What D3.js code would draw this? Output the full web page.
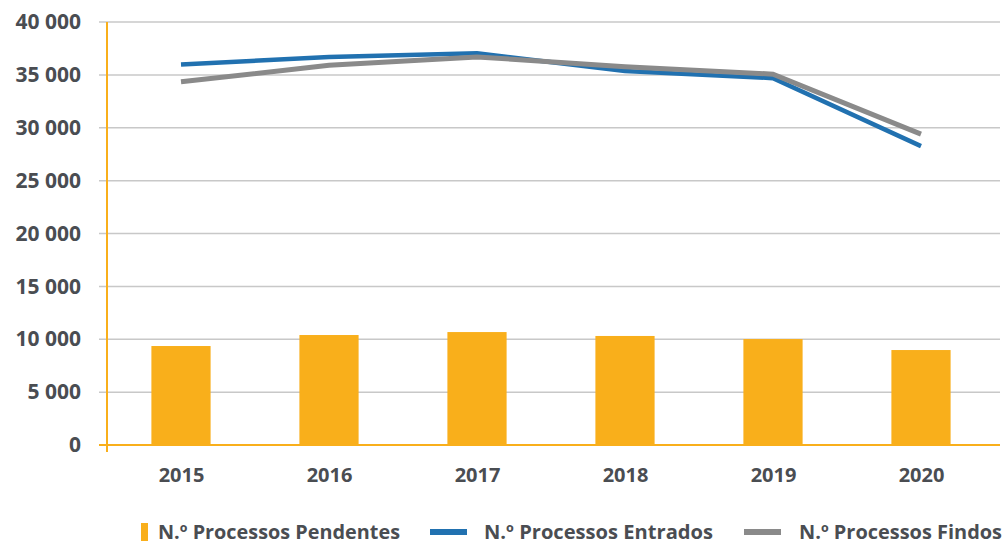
<!DOCTYPE html>
<html><head><meta charset="utf-8">
<script src="https://cdn.jsdelivr.net/npm/d3@7"></script>
<style>
body{margin:0;background:#fff;}
text{font-family:"Open Sans",sans-serif;font-weight:700;fill:#4a4d52;}
</style></head>
<body><svg id="c" width="1005" height="545"></svg>
<script>
const years = ["2015","2016","2017","2018","2019","2020"];
const pendentes = [9360, 10400, 10680, 10310, 10020, 8980];
const entrados = [35980, 36700, 37050, 35370, 34690, 28260];
const findos = [34340, 35900, 36700, 35760, 35070, 29400];
const yTicks = [0,5000,10000,15000,20000,25000,30000,35000,40000];
const seriesNames = ["N.º Processos Pendentes","N.º Processos Entrados","N.º Processos Findos"];

const orange="#F9AF1B", blue="#2171B0", gray="#8A8A8A";
const svg=d3.select("#c");
const x=d3.scaleBand().domain(years).range([107,995]).paddingInner(0.6).paddingOuter(0.3);
const xp=d3.scalePoint().domain(years).range([107,995]).padding(0.5);
const y=d3.scaleLinear().domain([0,40000]).range([445,22]);
const fmt=v=>d3.format(",")(v).replace(/,/g," ");

// gridlines
svg.append("g").selectAll("line").data(yTicks.filter(t=>t>0)).join("line")
 .attr("x1",99).attr("x2",1000).attr("y1",d=>y(d)).attr("y2",d=>y(d))
 .attr("stroke","#c8c8c8").attr("stroke-width",1.5);

// y axis labels
const ya=svg.append("g").attr("transform","translate(81,0)")
 .call(d3.axisLeft(y).tickValues(yTicks).tickFormat(fmt).tickSize(0).tickPadding(0));
ya.select(".domain").remove();
ya.selectAll("text").style("font-size","21px").attr("fill","#4a4d52").attr("font-family","Open Sans").attr("font-weight","700");

// bars
svg.append("g").selectAll("rect").data(pendentes).join("rect")
 .attr("x",(d,i)=>x(years[i])).attr("width",x.bandwidth())
 .attr("y",d=>y(d)).attr("height",d=>y(0)-y(d)).attr("fill",orange);

// axis lines
svg.append("line").attr("x1",107).attr("x2",107).attr("y1",22).attr("y2",452).attr("stroke",orange).attr("stroke-width",2);
svg.append("line").attr("x1",99).attr("x2",1000).attr("y1",y(0)).attr("y2",y(0)).attr("stroke",orange).attr("stroke-width",2);

// x axis labels
const xa=svg.append("g").attr("transform","translate(0,468)")
 .call(d3.axisBottom(xp).tickSize(0).tickPadding(0));
xa.select(".domain").remove();
xa.selectAll("text").style("font-size","20px").attr("fill","#4a4d52").attr("font-family","Open Sans").attr("font-weight","700");

// lines
const line=d3.line().x((d,i)=>xp(years[i])).y(d=>y(d));
svg.append("path").datum(entrados).attr("d",line).attr("fill","none").attr("stroke",blue).attr("stroke-width",4.5);
svg.append("path").datum(findos).attr("d",line).attr("fill","none").attr("stroke",gray).attr("stroke-width",5);

// legend
const lg=svg.append("g");
lg.append("rect").attr("x",141).attr("y",523).attr("width",7).attr("height",18).attr("fill",orange);
lg.append("line").attr("x1",430).attr("x2",467).attr("y1",532).attr("y2",532).attr("stroke",blue).attr("stroke-width",6);
lg.append("line").attr("x1",744).attr("x2",781).attr("y1",532).attr("y2",532).attr("stroke",gray).attr("stroke-width",6);
const lx=[158,484,799];
const lw=[242,229,203];
lg.selectAll("text").data(seriesNames).join("text")
 .attr("x",(d,i)=>lx[i]).attr("y",539).text(d=>d).style("font-size","19.5px")
 .attr("textLength",(d,i)=>lw[i]).attr("lengthAdjust","spacingAndGlyphs");
</script></body></html>
